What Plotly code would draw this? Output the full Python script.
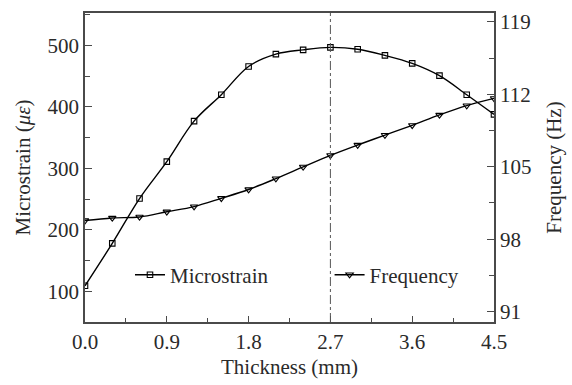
import plotly.graph_objects as go

thickness = [0.0, 0.3, 0.6, 0.9, 1.2, 1.5, 1.8, 2.1, 2.4, 2.7, 3.0, 3.3, 3.6, 3.9, 4.2, 4.5]
microstrain = [109, 178, 251, 311, 377, 420, 466, 486, 493, 497, 494, 484, 471, 451, 420, 388]
frequency = [99.8, 100.05, 100.15, 100.65, 101.15, 101.95, 102.8, 103.85, 104.98, 106.1,
             107.1, 108.05, 109.0, 110.0, 110.9, 111.6]

x_ticks = [0.0, 0.9, 1.8, 2.7, 3.6, 4.5]
x_ticklabels = ["0.0", "0.9", "1.8", "2.7", "3.6", "4.5"]
left_ticks = [100, 200, 300, 400, 500]
right_ticks = [91, 98, 105, 112, 119]
peak_x = 2.7

FONT = "Liberation Serif"
FS = 21
AXC = "#4a4a4a"
TXT = "#2a2a2a"

fig = go.Figure()
fig.add_trace(go.Scatter(
    x=thickness, y=microstrain, name="Microstrain", mode="lines+markers",
    line=dict(color="black", width=1.4, shape="spline", smoothing=1.0),
    marker=dict(symbol="square-open", size=5.5, color="black", line=dict(width=1.1)),
    legend="legend", yaxis="y", showlegend=True))
fig.add_trace(go.Scatter(
    x=thickness, y=frequency, name="Frequency", mode="lines+markers",
    line=dict(color="black", width=1.4, shape="spline", smoothing=1.0),
    marker=dict(symbol="triangle-down-open", size=6.5, color="black", line=dict(width=1.1)),
    legend="legend2", yaxis="y2", showlegend=True))

fig.add_shape(type="line", xref="x", yref="paper", x0=peak_x, x1=peak_x, y0=0, y1=1,
              line=dict(color="#555555", width=1, dash="dashdot"))

tickfont = dict(family=FONT, size=FS, color=TXT)
fig.update_layout(
    width=572, height=385,
    margin=dict(l=85, r=77, t=10, b=58),
    plot_bgcolor="white", paper_bgcolor="white",
    showlegend=True,
    font=dict(family=FONT, size=FS, color=TXT),
    xaxis=dict(range=[0, 4.5], tickvals=x_ticks, ticktext=x_ticklabels,
               ticks="inside", ticklen=6, tickcolor=AXC, tickwidth=1.2,
               minor=dict(dtick=0.45, tick0=0, ticks="inside", ticklen=4, tickcolor=AXC),
               showline=True, linecolor=AXC, linewidth=1.5, mirror=True,
               showgrid=False, zeroline=False, tickfont=tickfont,
               title=dict(text="Thickness (mm)", font=dict(family=FONT, size=FS), standoff=6)),
    yaxis=dict(range=[50, 553], tickvals=left_ticks,
               ticks="inside", ticklen=7, tickcolor=AXC, tickwidth=1.2,
               minor=dict(dtick=50, tick0=50, ticks="inside", ticklen=5, tickcolor=AXC),
               showline=True, linecolor=AXC, linewidth=1.5,
               showgrid=False, zeroline=False, tickfont=tickfont,
               title=dict(text="Microstrain (<i>με</i>)", font=dict(family=FONT, size=FS), standoff=11)),
    yaxis2=dict(range=[90, 119.85], tickvals=right_ticks, overlaying="y", side="right",
                ticks="inside", ticklen=7, tickcolor=AXC, tickwidth=1.2,
                minor=dict(dtick=3.5, tick0=91, ticks="inside", ticklen=5, tickcolor=AXC),
                showline=True, linecolor=AXC, linewidth=1.5,
                showgrid=False, zeroline=False, tickfont=tickfont,
                title=dict(text="Frequency (Hz)", font=dict(family=FONT, size=FS), standoff=16)),
    legend=dict(x=0.11, y=0.152, xanchor="left", yanchor="middle", bgcolor="rgba(0,0,0,0)",
                font=dict(family=FONT, size=FS, color=TXT), itemwidth=30, borderwidth=0),
    legend2=dict(x=0.598, y=0.152, xanchor="left", yanchor="middle", bgcolor="rgba(0,0,0,0)",
                 font=dict(family=FONT, size=FS, color=TXT), itemwidth=30, borderwidth=0),
)

fig.write_html("out.html")
